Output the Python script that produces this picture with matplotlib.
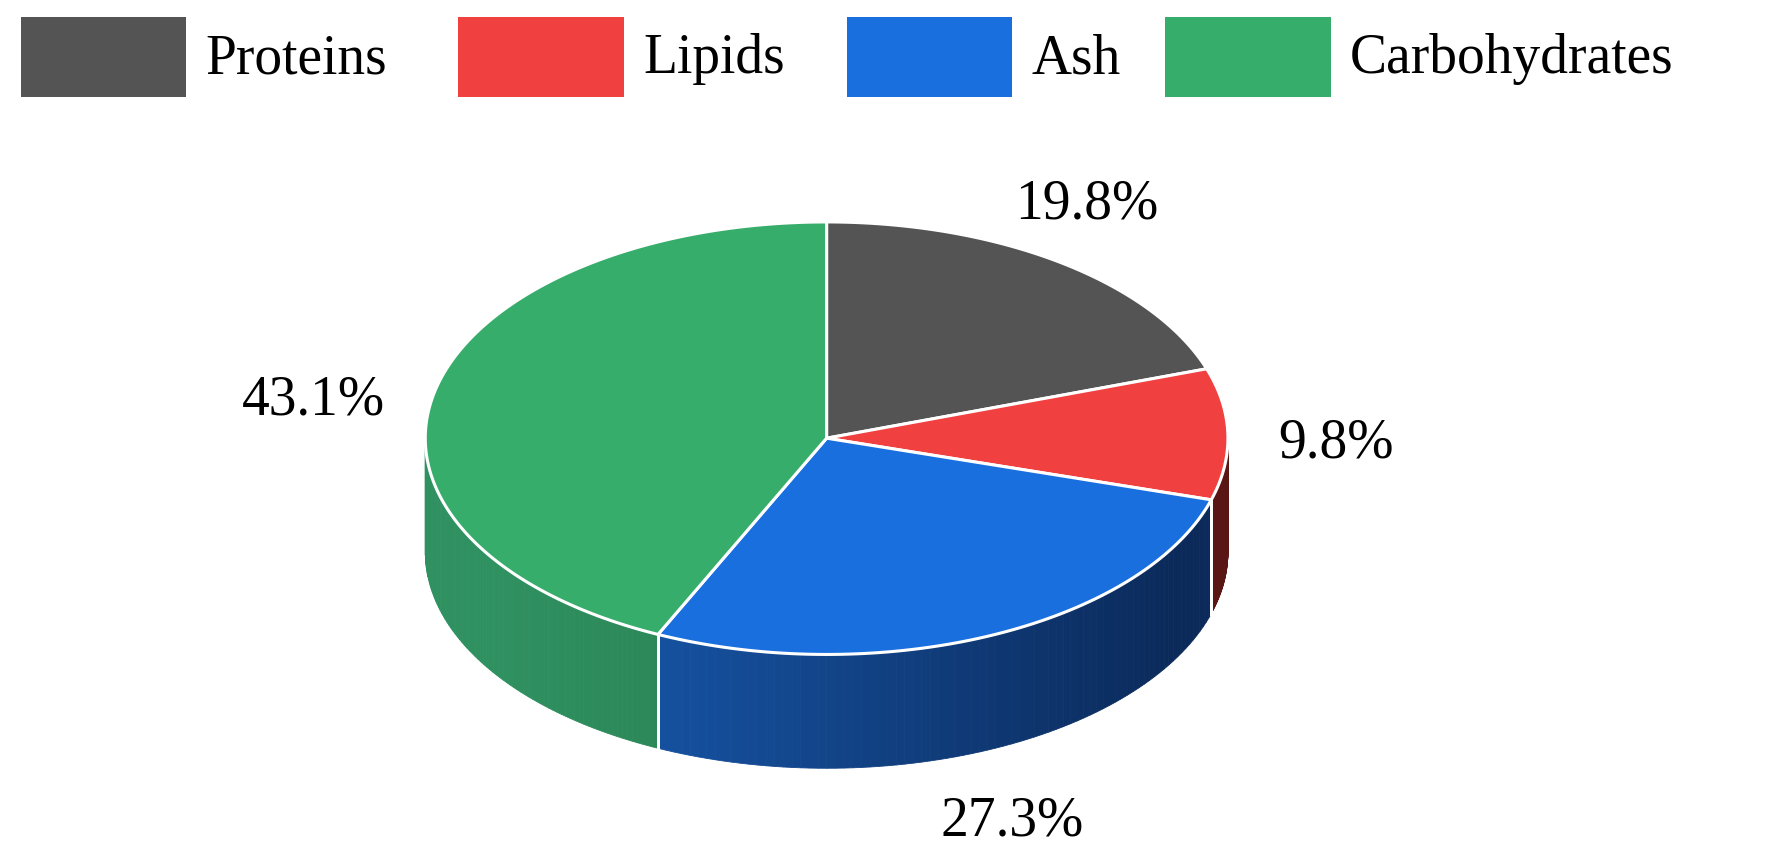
import numpy as np
import matplotlib.pyplot as plt
from matplotlib.patches import Polygon, Rectangle
import matplotlib.colors as mc

labels = ['Proteins', 'Lipids', 'Ash', 'Carbohydrates']
values = [19.8, 9.8, 27.3, 43.1]
colors = ['#545454', '#f04040', '#1a6fdf', '#37ad6b']
side_dark = ['#2a2a2a', '#5a1515', '#0b2a5a', '#267a4b']
side_light = ['#3a3a3a', '#7a1f1f', '#15509e', '#2f9060']

W, H = 1570, 760
cx, cy, rx, ry, depth = 725, 385, 352, 190, 100

fig = plt.figure(figsize=(17.9, 8.65), dpi=100)
ax = fig.add_axes([0, 0, 1, 1])
ax.set_xlim(0, W)
ax.set_ylim(H, 0)
ax.axis('off')
font = 'Liberation Serif'

def pt(a, dy=0):
    r = np.radians(a)
    return cx + rx * np.cos(r), cy - ry * np.sin(r) + dy

fracs = np.array(values) / sum(values)
ends = 90 - 360 * np.cumsum(fracs)
starts = np.concatenate([[90], ends[:-1]])

# side walls (visible lower half: angles between -180 and 0)
for i in range(len(values)):
    a0, a1 = starts[i], ends[i]  # a0 > a1
    lo, hi = max(a1, -180), min(a0, 0)
    if lo >= hi:
        continue
    angs = np.linspace(hi, lo, 80)
    c1 = np.array(mc.to_rgb(side_light[i]))
    c2 = np.array(mc.to_rgb(side_dark[i]))
    for k in range(len(angs) - 1):
        p = [pt(angs[k]), pt(angs[k + 1]), pt(angs[k + 1], depth), pt(angs[k], depth)]
        x_mid = (p[0][0] - (cx - rx)) / (2 * rx)
        t = np.clip((x_mid - 0.1) / 0.55, 0, 1) if i == 3 else np.clip(x_mid * 1.6 - 0.5, 0, 1)
        col = c1 * (1 - t) + c2 * t
        ax.add_patch(Polygon(p, closed=True, fc=col, ec=col, lw=0.6))
    # white edges of wall
    for a in (hi, lo):
        if -180 < a < 0:
            x0, y0 = pt(a)
            ax.plot([x0, x0], [y0, y0 + depth], color='white', lw=2)
bang = np.linspace(0, -180, 200)
bx, by = zip(*[pt(a, depth) for a in bang])

# top wedges
for i in range(len(values)):
    angs = np.linspace(starts[i], ends[i], 200)
    p = [(cx, cy)] + [pt(a) for a in angs]
    ax.add_patch(Polygon(p, closed=True, fc=colors[i], ec='white', lw=2.2, joinstyle='round'))

# value labels
label_pos = [(953, 180), (1172, 390), (888, 722), (275, 352)]
for v, (x, y) in zip(values, label_pos):
    ax.text(x, y, f'{v}%', fontsize=40, family=font, ha='center', va='center')

# legend
lx = [18, 402, 743, 1022]
for i, lab in enumerate(labels):
    ax.add_patch(Rectangle((lx[i], 15), 145, 70, fc=colors[i], ec='none'))
    ax.text(lx[i] + 162, 52, lab, fontsize=40, family=font, ha='left', va='center')

fig.savefig('out.png', dpi=100, facecolor='white')
